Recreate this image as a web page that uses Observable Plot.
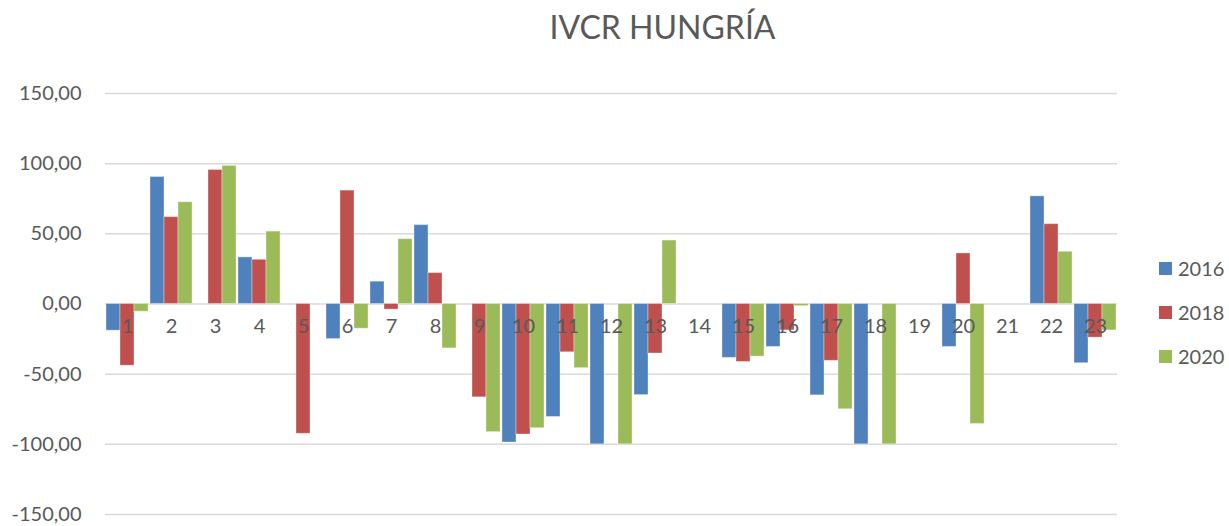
<!DOCTYPE html>
<html>
<head>
<meta charset="utf-8">
<script src="https://cdn.jsdelivr.net/npm/d3@7"></script>
<script src="https://cdn.jsdelivr.net/npm/@observablehq/plot@0.6"></script>
<style>
  html, body { margin: 0; padding: 0; background: #fff; }
  #wrap { position: relative; width: 1229px; height: 526px; font-family: Lato, "Open Sans", sans-serif; color: #595959; }
  #title { position: absolute; left: 0; width: 1229px; top: 8px; text-align: center; font-size: 32px; padding-left: 96px; box-sizing: border-box; line-height: 38px; }
  #legend { position: absolute; left: 1159px; top: 246px; font-size: 20px; }
  .item { display: flex; align-items: center; height: 44px; }
  .sw { width: 13px; height: 13px; margin-right: 6px; }
  svg { display: block; }
</style>
</head>
<body>
<div id="wrap">
  <div id="chart"></div>
  <div id="title">IVCR HUNGRÍA</div>
  <div id="legend"></div>
</div>
<script>
const categories = ["1","2","3","4","5","6","7","8","9","10","11","12","13","14","15","16","17","18","19","20","21","22","23"];
const seriesNames = ["2016", "2018", "2020"];
const values2016 = [-19, 90.5, 0, 33.2, 0, -25, 15.9, 56.2, 0, -98.7, -80.5, -100, -64.9, 0, -38.4, -30.6, -65.1, -100, 0, -30.6, 0, 76.7, -42.2];
const values2018 = [-44, 61.9, 95.5, 31.5, -92.5, 80.8, -4, 22, -66.5, -93, -34.4, 0, -35.3, 0, -41.3, -18.8, -40.5, 0, 0, 36, 0, 56.9, -24];
const values2020 = [-5.5, 72.5, 98.4, 51.6, 0, -17.6, 46.2, -31.6, -91.3, -88.5, -45.7, -100, 45.2, 0, -37.5, -1.5, -75, -100, 0, -85.5, 0, 37.2, -18.8];
const yTicks = [-150, -100, -50, 0, 50, 100, 150];
const colors = ["#4F81BD", "#C0504D", "#9BBB59"];

const allValues = [values2016, values2018, values2020];
const data = [];
categories.forEach((c, i) => {
  seriesNames.forEach((s, j) => data.push({cat: c, series: s, value: allValues[j][i]}));
});

const fmt = v => v.toFixed(2).replace(".", ",");

const chart = Plot.plot({
  width: 1229,
  height: 526,
  marginLeft: 105,
  marginRight: 112,
  marginTop: 93,
  marginBottom: 12,
  style: {fontFamily: "Lato, 'Open Sans', sans-serif", fontSize: "20px", color: "#595959", background: "#fff"},
  fx: {domain: categories, paddingInner: 0, paddingOuter: 0, axis: null, label: null},
  x: {domain: seriesNames, padding: 0, axis: null, label: null},
  y: {domain: [-150, 150], ticks: yTicks, axis: null, label: null},
  color: {domain: seriesNames, range: colors},
  marks: [
    Plot.ruleY(yTicks, {stroke: "#D9D9D9", strokeWidth: 1.5}),
    Plot.barY(data, {fx: "cat", x: "series", y: "value", fill: "series", stroke: "#fff", strokeOpacity: 0.35, strokeWidth: 1}),
    Plot.text(categories, {fx: d => d, y: 0, text: d => d, dy: 23, fill: "#595959", fontSize: 20}),
    Plot.axisY({ticks: yTicks, tickFormat: fmt, tickSize: 0, tickPadding: 24, fontSize: 20, fill: "#595959", anchor: "left", label: null})
  ]
});
document.getElementById("chart").appendChild(chart);

const legend = document.getElementById("legend");
seriesNames.forEach((s, i) => {
  const item = document.createElement("div");
  item.className = "item";
  item.innerHTML = `<div class="sw" style="background:${colors[i]}"></div><span>${s}</span>`;
  legend.appendChild(item);
});
</script>
</body>
</html>
